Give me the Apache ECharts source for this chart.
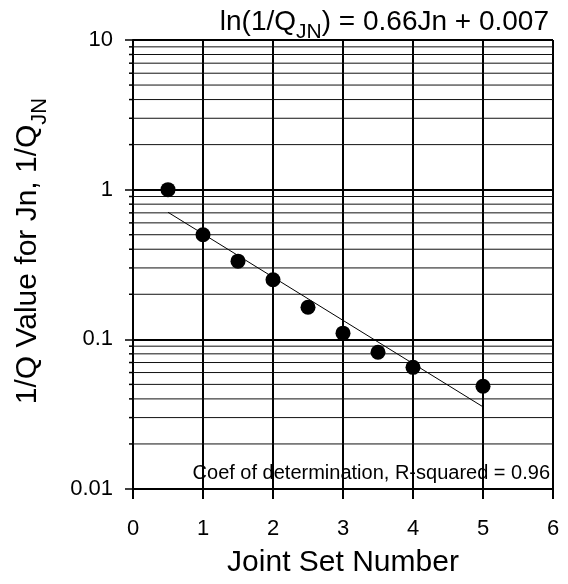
<!DOCTYPE html>
<html><head><meta charset="utf-8">
<script src="https://cdn.jsdelivr.net/npm/echarts@6/dist/echarts.min.js"></script>
<style>html,body{margin:0;padding:0;background:#fff}#c{width:568px;height:584px}</style>
</head><body><div id="c"></div>
<script>
const jointSet = [0.5, 1, 1.5, 2, 2.5, 3, 3.5, 4, 5];
const invQ = [1.0, 0.5, 0.333, 0.25, 0.164, 0.11, 0.082, 0.065, 0.0486];
const fitX = [0.5, 5];
const fitY = [0.706, 0.0354];
const xTicks = [0, 1, 2, 3, 4, 5, 6];
const yTicks = [0.01, 0.1, 1, 10];
const minorY = [0.02,0.03,0.04,0.05,0.06,0.07,0.08,0.09,0.2,0.3,0.4,0.5,0.6,0.7,0.8,0.9,2,3,4,5,6,7,8,9];
const FONT = '"Liberation Sans", Arial, sans-serif';

const chart = echarts.init(document.getElementById('c'));
chart.setOption({
  animation: false,
  backgroundColor: '#fff',
  grid: {left: 133, right: 15, top: 40, bottom: 95, outerBoundsMode: 'none', containLabel: false},
  title: {
    text: '{n|ln(1/Q}{s|JN}{n|) = 0.66Jn + 0.007}',
    right: 14, top: -3,
    textStyle: {fontWeight: 'normal', rich: {
      n: {fontFamily: FONT, fontSize: 28, fontWeight: 'normal', color: '#000', verticalAlign: 'bottom', lineHeight: 34},
      s: {fontFamily: FONT, fontSize: 21, fontWeight: 'normal', color: '#000', verticalAlign: 'bottom', lineHeight: 24, padding:[0,0,-7,0]}
    }}
  },
  xAxis: {
    type: 'value', min: 0, max: 6, interval: 1,
    name: 'Joint Set Number', nameLocation: 'middle', nameGap: 59,
    nameTextStyle: {fontFamily: FONT, fontSize: 30, color: '#000'},
    axisLine: {lineStyle: {color: '#000', width: 2}},
    axisTick: {show: true, inside: false, length: 10, lineStyle: {color: '#000', width: 2}},
    axisLabel: {fontFamily: FONT, fontSize: 22, color: '#000', margin: 29,
      formatter: v => { const r = xTicks.find(t => Math.abs(t - v) < 1e-6); return r !== undefined ? String(r) : ''; }},
    splitLine: {show: true, lineStyle: {color: '#000', width: 2}}
  },
  yAxis: {
    type: 'log', logBase: 10, min: 0.01, max: 10,
    axisLine: {show: true, lineStyle: {color: '#000', width: 2}},
    axisTick: {show: true, inside: false, length: 8, lineStyle: {color: '#000', width: 1.5}},
    axisLabel: {fontFamily: FONT, fontSize: 22, color: '#000', margin: 20,
      formatter: v => { const r = yTicks.find(t => Math.abs(t - v) / t < 1e-6); return r !== undefined ? String(r) : ''; }},
    splitLine: {show: true, lineStyle: {color: '#000', width: 2}}
  },
  graphic: [{
    type: 'text', x: 25, y: 251, rotation: Math.PI / 2,
    style: {
      text: '{n|1/Q Value for Jn, 1/Q}{s|JN}', align: 'center', verticalAlign: 'middle',
      rich: {
        n: {fontFamily: FONT, fontSize: 30, fill: '#000', lineHeight: 36, verticalAlign: 'bottom'},
        s: {fontFamily: FONT, fontSize: 22, fill: '#000', lineHeight: 24, verticalAlign: 'bottom', padding: [0,0,-8,0]}
      }
    }
  }, {
    type: 'text', right: 18, top: 463,
    style: {text: 'Coef of determination, R-squared = 0.96', font: '20px "Liberation Sans", Arial, sans-serif', fill: '#000'}
  }],
  series: [
    {
      type: 'custom', silent: true, clip: false,
      data: minorY.map(v => [v]),
      encode: {y: 0},
      renderItem: (params, api) => {
        const v = api.value(0);
        const p0 = api.coord([0, v]);
        const p1 = api.coord([6, v]);
        return {type: 'group', children: [
          {type: 'line', shape: {x1: p0[0], y1: p0[1], x2: p1[0], y2: p1[1]}, style: {stroke: '#111', lineWidth: 1}},
          {type: 'line', shape: {x1: p0[0] - 4, y1: p0[1], x2: p0[0], y2: p0[1]}, style: {stroke: '#000', lineWidth: 1.5}}
        ]};
      },
      z: 1
    },
    {
      type: 'line', data: fitX.map((x, i) => [x, fitY[i]]),
      showSymbol: false, symbol: 'none',
      lineStyle: {color: '#000', width: 1}, z: 3
    },
    {
      type: 'scatter', data: jointSet.map((x, i) => [x, invQ[i]]),
      symbolSize: 15, itemStyle: {color: '#000', opacity: 1}, z: 4
    }
  ]
});
</script></body></html>
